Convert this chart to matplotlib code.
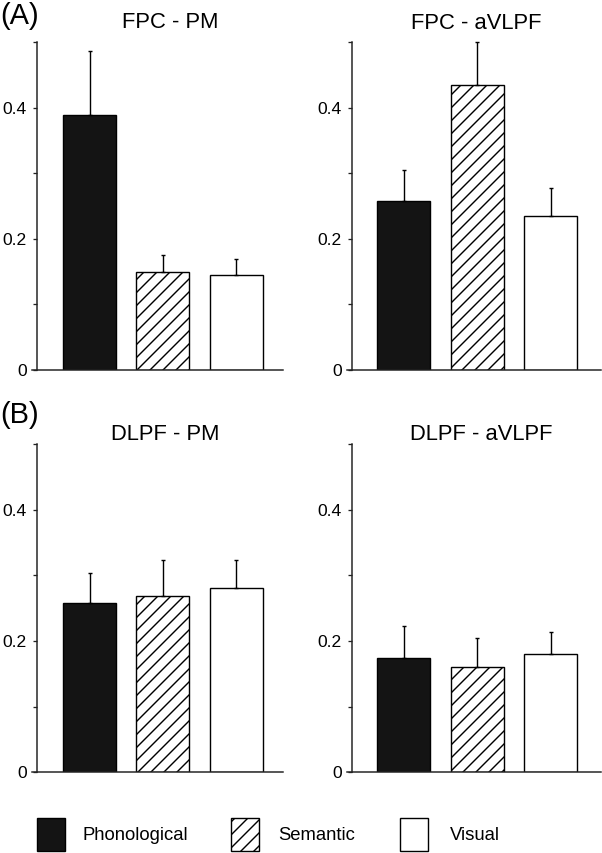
import matplotlib
matplotlib.use("Agg")
import matplotlib.pyplot as plt
from matplotlib.patches import Rectangle

# ---------------- data ----------------
conditions = ["Phonological", "Semantic", "Visual"]
titles = ["FPC - PM", "FPC - aVLPF", "DLPF - PM", "DLPF - aVLPF"]
panel_labels = ["(A)", "(B)"]

fpc_pm_mean = [0.389, 0.149, 0.145]
fpc_pm_err = [0.097, 0.027, 0.024]
fpc_avlpf_mean = [0.257, 0.435, 0.234]
fpc_avlpf_err = [0.048, 0.065, 0.044]
dlpf_pm_mean = [0.258, 0.269, 0.281]
dlpf_pm_err = [0.046, 0.055, 0.043]
dlpf_avlpf_mean = [0.174, 0.160, 0.180]
dlpf_avlpf_err = [0.049, 0.045, 0.034]

major_ticks = [0.0, 0.2, 0.4]
major_labels = ["0", "0.2", "0.4"]
minor_ticks = [0.1, 0.3, 0.5]

# ---------------- styling ----------------
W, H = 602, 853
DPI = 78
plt.rcParams["font.family"] = ["Liberation Sans", "DejaVu Sans"]
plt.rcParams["hatch.linewidth"] = 1.3
plt.rcParams["hatch.color"] = "black"


def pt(px):
    return px * 72.0 / DPI


fig = plt.figure(figsize=(W / DPI, H / DPI), dpi=DPI)

fills = ["#141414", "white", "white"]
hatches = [None, "//", None]

panels = [
    (fpc_pm_mean, fpc_pm_err, titles[0]),
    (fpc_avlpf_mean, fpc_avlpf_err, titles[1]),
    (dlpf_pm_mean, dlpf_pm_err, titles[2]),
    (dlpf_avlpf_mean, dlpf_avlpf_err, titles[3]),
]

# pixel layout: (axes left, axes right, y-spine x, first bar centre)
cols = [(32, 283, 36.7, 89.5), (347, 601, 352.0, 404.0)]
rows = [(42.0, 370.0), (444.0, 772.3)]
title_pos = [(170, 28), (476, 29), (165, 440), (481, 440)]
spacing_px = 73.25
bar_w = 53 / spacing_px

for i, (means, errs, title) in enumerate(panels):
    r, c = divmod(i, 2)
    left_px, right_px, spine_px, c0 = cols[c]
    top_px, bot_px = rows[r]
    ax = fig.add_axes([left_px / W, 1 - bot_px / H,
                       (right_px - left_px) / W, (bot_px - top_px) / H])
    x = list(range(len(means)))
    ax.bar(x, means, width=bar_w, color=fills, edgecolor="black",
           linewidth=pt(1.4), zorder=2)
    for patch, h in zip(ax.patches, hatches):
        if h:
            patch.set_hatch(h)
    ax.errorbar(x, means, yerr=[[0] * len(errs), errs], fmt="none",
                ecolor="black", elinewidth=pt(1.4), capsize=pt(2.5),
                capthick=pt(1.4), zorder=3, clip_on=False)
    xl = 0 - (c0 - left_px) / spacing_px
    xr = 2 + (right_px - (c0 + 2 * spacing_px)) / spacing_px
    ax.set_xlim(xl, xr)
    ax.set_ylim(0, 0.5)
    for s in ["top", "right"]:
        ax.spines[s].set_visible(False)
    ax.spines["left"].set_position(("axes", (spine_px - left_px) / (right_px - left_px)))
    for s in ["left", "bottom"]:
        ax.spines[s].set_linewidth(pt(1.5))
        ax.spines[s].set_color("#222222")
    ax.set_xticks([])
    ax.set_yticks(major_ticks)
    ax.set_yticklabels(major_labels)
    ax.set_yticks(minor_ticks, minor=True)
    ax.tick_params(axis="y", which="both", direction="out", length=pt(4),
                   width=pt(1.3), color="#222222", labelsize=pt(17.5), pad=pt(6))
    ax.patch.set_alpha(0)
    tx, ty = title_pos[i]
    fig.text(tx / W, 1 - ty / H, title, ha="center", va="baseline",
             fontsize=pt(22))

# panel labels
fig.text(0 / W, 1 - 24 / H, panel_labels[0], ha="left", va="baseline", fontsize=pt(29))
fig.text(0 / W, 1 - 423 / H, panel_labels[1], ha="left", va="baseline", fontsize=pt(29))

# legend (pixel coordinates)
lax = fig.add_axes([0, 0, 1, 1])
lax.set_xlim(0, W)
lax.set_ylim(H, 0)
lax.axis("off")
leg_boxes = [37, 231, 400]
leg_text = [83, 278, 450]
for j, name in enumerate(conditions):
    rect = Rectangle((leg_boxes[j], 818), 28, 33, facecolor=fills[j],
                     edgecolor="black", linewidth=pt(1.4),
                     hatch=hatches[j])
    lax.add_patch(rect)
    lax.text(leg_text[j], 835, name, ha="left", va="center", fontsize=pt(18.5))

fig.savefig("out.png", dpi=DPI)
